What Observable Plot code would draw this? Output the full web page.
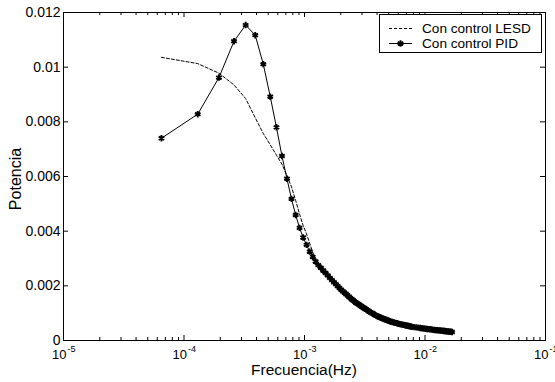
<!DOCTYPE html>
<html><head><meta charset="utf-8">
<script src="https://cdn.jsdelivr.net/npm/d3@7"></script>
<script src="https://cdn.jsdelivr.net/npm/@observablehq/plot@0.6"></script>
<style>
body{margin:0;background:#fff}
svg{font-family:"Liberation Sans",Arial,Helvetica,sans-serif}
</style>
</head><body><div id="chart"></div>
<script>
// Frequencies (Hz) and power values
const pidFreq = [6.5e-5, 1.3e-4, 1.95e-4, 2.6e-4, 3.25e-4, 3.9e-4, 4.55e-4, 5.2e-4, 5.85e-4, 6.5e-4,
  7.15e-4, 7.8e-4, 8.45e-4, 9.1e-4, 9.75e-4, 1.04e-3, 1.105e-3, 1.17e-3, 1.235e-3, 1.3e-3,
  1.365e-3, 1.43e-3, 1.495e-3, 1.56e-3, 1.625e-3, 1.69e-3, 1.755e-3, 1.82e-3, 1.885e-3, 1.95e-3,
  2.015e-3, 2.08e-3, 2.145e-3, 2.21e-3, 2.275e-3, 2.34e-3, 2.405e-3, 2.47e-3, 2.535e-3, 2.6e-3,
  2.665e-3, 2.73e-3, 2.795e-3, 2.86e-3, 2.925e-3, 2.99e-3, 3.055e-3, 3.12e-3, 3.185e-3, 3.25e-3,
  3.3475e-3, 3.445e-3, 3.5425e-3, 3.64e-3, 3.7375e-3, 3.835e-3, 3.9325e-3, 4.03e-3, 4.1275e-3, 4.225e-3,
  4.3225e-3, 4.42e-3, 4.5175e-3, 4.615e-3, 4.7125e-3, 4.81e-3, 4.9075e-3, 5.005e-3, 5.1025e-3, 5.2e-3,
  5.3625e-3, 5.525e-3, 5.6875e-3, 5.85e-3, 6.0125e-3, 6.175e-3, 6.3375e-3, 6.5e-3, 6.6625e-3, 6.825e-3,
  6.9875e-3, 7.15e-3, 7.3125e-3, 7.475e-3, 7.6375e-3, 7.8e-3, 8.125e-3, 8.45e-3,
  8.775e-3, 9.1e-3, 9.425e-3, 9.75e-3, 1.0075e-2, 1.04e-2, 1.0725e-2, 1.105e-2, 1.1375e-2, 1.17e-2,
  1.2025e-2, 1.235e-2, 1.2675e-2, 1.3e-2, 1.3325e-2, 1.365e-2, 1.3975e-2, 1.43e-2, 1.4625e-2, 1.495e-2,
  1.5275e-2, 1.56e-2, 1.5925e-2, 1.625e-2, 1.651e-2, 1.677e-2];
const pidPow = [0.0074, 0.00828, 0.00962, 0.01095, 0.01154, 0.01117, 0.01011, 0.00892, 0.0078, 0.00675,
  0.00592, 0.00518, 0.00459, 0.00412, 0.00377, 0.0035, 0.00325, 0.00306, 0.00289, 0.00276,
  0.00266, 0.00256, 0.00247, 0.00238, 0.00229, 0.00221, 0.00213, 0.00206, 0.00199, 0.00192,
  0.00186, 0.0018, 0.00175, 0.0017, 0.00165, 0.0016, 0.00155, 0.00151, 0.00147, 0.00143,
  0.00139, 0.00136, 0.00133, 0.0013, 0.00127, 0.00124, 0.00121, 0.00119, 0.00116, 0.00114,
  0.0011, 0.00106, 0.00103, 0.001, 0.00097, 0.00094, 0.00091, 0.00089, 0.00087, 0.00085,
  0.00083, 0.00081, 0.000795, 0.00078, 0.000765, 0.00075, 0.000735, 0.00072, 0.000705, 0.00069,
  0.000675, 0.00066, 0.000645, 0.00063, 0.000615, 0.0006, 0.00059, 0.00058, 0.00057, 0.00056,
  0.00055, 0.00054, 0.00053, 0.00052, 0.00051, 0.0005, 0.00049, 0.00048,
  0.00047, 0.00046, 0.00045, 0.00044, 0.00043, 0.00042, 0.000415, 0.00041, 0.0004, 0.00039,
  0.000385, 0.00038, 0.000375, 0.00037, 0.000365, 0.00036, 0.000355, 0.00035, 0.000345, 0.00034,
  0.000335, 0.00033, 0.000325, 0.00032, 0.000315, 0.00031];

const lesdFreq = [6.5e-5, 1.3e-4, 1.95e-4, 2.6e-4, 3.25e-4, 3.9e-4, 4.55e-4, 5.2e-4, 5.85e-4, 6.5e-4,
  7.15e-4, 7.8e-4, 8.45e-4, 9.1e-4, 9.75e-4, 1.04e-3, 1.105e-3, 1.17e-3, 1.235e-3, 1.3e-3,
  1.43e-3, 1.625e-3, 1.95e-3, 2.6e-3, 3.25e-3, 4.225e-3, 5.2e-3, 6.5e-3, 8.45e-3, 1.105e-2,
  1.43e-2, 1.677e-2];
const lesdPow = [0.01036, 0.01013, 0.00978, 0.00935, 0.00885, 0.00815, 0.00757, 0.00716, 0.00678, 0.00645,
  0.00603, 0.00562, 0.00512, 0.00462, 0.0042, 0.0039, 0.00355, 0.00323, 0.003, 0.00283,
  0.00256, 0.00229, 0.00192, 0.00143, 0.00114, 0.00085, 0.00069, 0.00058, 0.00048, 0.00041,
  0.00035, 0.00031];

const xMajor = [1e-5, 1e-4, 1e-3, 1e-2, 1e-1];
const xExp = ["-5", "-4", "-3", "-2", "-1"];
const yTicks = [0, 0.002, 0.004, 0.006, 0.008, 0.01, 0.012];
const yLabels = ["0", "0.002", "0.004", "0.006", "0.008", "0.01", "0.012"];
const seriesNames = ["Con control LESD", "Con control PID"];
const xTitle = "Frecuencia(Hz)";
const yTitle = "Potencia";

const W = 555, H = 382, mL = 63, mR = 10, mT = 12, mB = 42;
const plotH = H - mT - mB, plotW = W - mL - mR;

const pid = pidFreq.map((f, i) => ({f, p: pidPow[i]}));
const lesd = lesdFreq.map((f, i) => ({f, p: lesdPow[i]}));
const xMinor = d3.scaleLog().domain([1e-5, 1e-1]).ticks()
  .filter(t => !xMajor.some(m => Math.abs(m - t) / m < 1e-9));

const font = '"Liberation Sans",Arial,Helvetica,sans-serif';
const markR = 3, markW = 1.9;

const chart = Plot.plot({
  width: W, height: H,
  marginLeft: mL, marginRight: mR, marginTop: mT, marginBottom: mB,
  x: {type: "log", domain: [1e-5, 1e-1], axis: null},
  y: {domain: [0, 0.012], axis: null},
  style: {fontFamily: font, background: "white", overflow: "visible", color: "black"},
  marks: [
    Plot.line(lesd, {x: "f", y: "p", stroke: "black", strokeWidth: 1, strokeDasharray: "3,2"}),
    Plot.line(pid, {x: "f", y: "p", stroke: "black", strokeWidth: 1}),
    Plot.dot(pid, {x: "f", y: "p", symbol: "asterisk", r: markR, stroke: "black", strokeWidth: markW}),
    Plot.frame({stroke: "black"}),
    Plot.tickX(xMajor, {x: d => d, stroke: "black", insetTop: plotH - 5}),
    Plot.tickX(xMajor, {x: d => d, stroke: "black", insetBottom: plotH - 5}),
    Plot.tickX(xMinor, {x: d => d, stroke: "black", insetTop: plotH - 3}),
    Plot.tickX(xMinor, {x: d => d, stroke: "black", insetBottom: plotH - 3}),
    Plot.tickY(yTicks, {y: d => d, stroke: "black", insetRight: plotW - 5}),
    Plot.tickY(yTicks, {y: d => d, stroke: "black", insetLeft: plotW - 5}),
    Plot.text(yTicks, {y: d => d, frameAnchor: "left", text: (d, i) => yLabels[i], textAnchor: "end", dx: -3, dy: 0, fontSize: 14, fill: "black"}),
    Plot.text(xMajor, {x: d => d, frameAnchor: "bottom", text: () => "10", textAnchor: "end", lineAnchor: "bottom", dx: 3, dy: 18, fontSize: 13, fill: "black"}),
    Plot.text(xMajor, {x: d => d, frameAnchor: "bottom", text: (d, i) => xExp[i], textAnchor: "start", lineAnchor: "bottom", dx: 4, dy: 11.5, fontSize: 9, fill: "black"})
  ]
});

const svg = d3.select(chart);
// axis titles
svg.append("text").attr("x", 304).attr("y", 375).attr("text-anchor", "middle")
  .attr("font-size", 15.5).attr("fill", "black").attr("font-family", font).text(xTitle);
svg.append("text").attr("transform", "translate(21,179) rotate(-90)").attr("text-anchor", "middle")
  .attr("font-size", 16).attr("fill", "black").attr("font-family", font).text(yTitle);

// legend
const lg = svg.append("g").attr("font-family", font).attr("text-anchor", "start");
lg.append("rect").attr("x", 379.5).attr("y", 14.5).attr("width", 162).attr("height", 38)
  .attr("fill", "white").attr("stroke", "black");
lg.append("line").attr("x1", 389).attr("x2", 412).attr("y1", 28.5).attr("y2", 28.5)
  .attr("stroke", "black").attr("stroke-dasharray", "3,2");
lg.append("line").attr("x1", 389).attr("x2", 412).attr("y1", 43.5).attr("y2", 43.5)
  .attr("stroke", "black");
lg.append("path").attr("d", d3.symbol(d3.symbolAsterisk, markR * markR * Math.PI)())
  .attr("transform", "translate(400.5,43.5)").attr("stroke", "black").attr("stroke-width", markW).attr("fill", "none");
lg.append("text").attr("x", 422).attr("y", 28.5).attr("dy", "0.35em").attr("font-size", 13.6)
  .attr("text-anchor", "start").attr("fill", "black").text(seriesNames[0]);
lg.append("text").attr("x", 422).attr("y", 43.5).attr("dy", "0.35em").attr("font-size", 13.6)
  .attr("text-anchor", "start").attr("fill", "black").text(seriesNames[1]);

document.getElementById("chart").appendChild(chart);
</script>
</body></html>
